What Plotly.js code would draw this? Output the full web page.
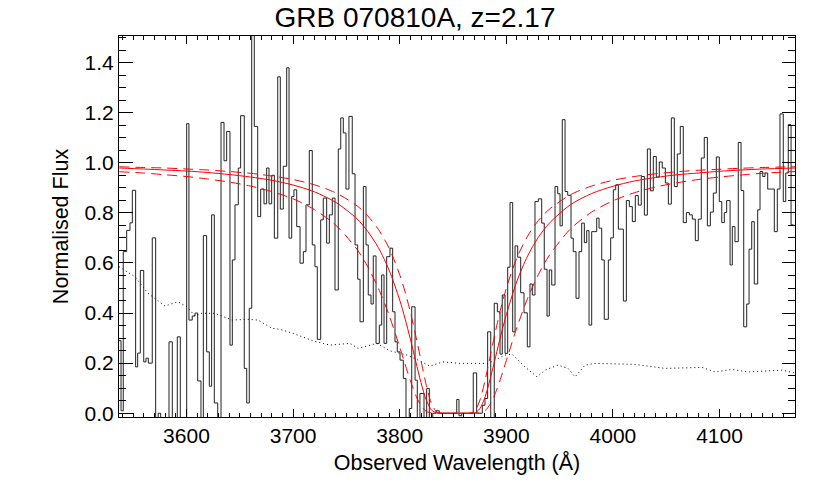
<!DOCTYPE html>
<html>
<head>
<meta charset="utf-8">
<script src="https://cdn.plot.ly/plotly-3.0.1.min.js"></script>
<style>html,body{margin:0;padding:0;background:#fff;}#chart{width:830px;height:493px;}</style>
</head>
<body>
<div id="chart"></div>
<script>
// Spectrum bin left edges (Angstrom); last entry is the right edge of the final bin
const waveEdges = [3536.7,3538.6,3540.7,3543.9,3547.0,3549.2,3552.3,3554.2,3556.7,3559.9,
3562.0,3564.2,3567.9,3571.1,3573.5,3575.8,3578.9,3581.4,3583.6,3586.7,
3589.2,3591.4,3594.2,3597.0,3600.2,3602.3,3605.4,3608.0,3610.5,3613.6,
3615.8,3618.9,3621.4,3623.6,3626.1,3629.3,3632.4,3635.2,3637.7,3640.8,
3643.0,3645.5,3648.6,3650.8,3654.2,3656.5,3658.9,3661.2,3663.6,3666.8,
3669.6,3672.7,3675.2,3677.4,3679.9,3682.4,3685.6,3688.0,3690.8,3694.0,
3696.2,3698.7,3700.8,3703.4,3706.5,3709.6,3712.1,3715.2,3718.0,3720.5,
3722.7,3725.9,3728.3,3731.5,3734.0,3736.8,3739.3,3742.4,3744.7,3747.1,
3749.6,3752.4,3755.5,3758.1,3760.6,3762.8,3765.9,3768.4,3770.5,3773.1,
3775.2,3777.8,3780.9,3783.1,3785.3,3787.8,3790.9,3793.4,3795.6,3797.7,
3800.3,3803.4,3805.9,3809.0,3811.3,3814.4,3816.5,3819.0,3822.8,3825.3,
3827.8,3831.0,3834.1,3837.1,3840.3,3842.5,3845.3,3848.1,3850.9,3853.5,
3855.6,3858.2,3861.3,3864.4,3866.9,3869.0,3872.2,3874.7,3877.5,3880.0,
3882.5,3885.4,3888.7,3891.6,3894.1,3896.2,3898.8,3901.3,3903.5,3906.0,
3908.2,3910.7,3913.5,3916.6,3919.7,3922.2,3924.4,3926.9,3930.0,3933.2,
3935.6,3938.2,3940.3,3942.6,3945.7,3948.2,3950.4,3952.5,3955.1,3957.6,
3960.7,3962.8,3965.4,3968.2,3970.7,3973.2,3975.4,3977.6,3980.1,3982.3,
3984.8,3987.0,3989.5,3991.9,3995.7,3997.9,4000.4,4002.6,4005.1,4009.8,
4012.6,4015.4,4018.2,4021.0,4023.8,4026.6,4029.5,4032.3,4035.1,4037.9,
4040.7,4043.5,4046.3,4049.2,4052.0,4054.8,4057.6,4060.4,4063.2,4066.0,
4068.9,4071.7,4074.5,4077.3,4080.1,4082.9,4085.7,4088.6,4091.4,4094.2,
4097.0,4099.8,4102.1,4104.5,4106.7,4109.9,4112.0,4114.5,4117.6,4120.2,
4122.7,4125.5,4127.7,4130.2,4132.6,4135.8,4138.0,4140.5,4142.7,4145.2,
4148.3,4151.4,4154.2,4156.7,4159.8,4162.1,4164.5,4167.1,4169.2,4170.8];

// Normalised flux per bin
const flux = [0.29,0.01,0.645,0.73,0.76,0.89,0.185,0.24,0.57,0.205,
0.22,0.20,0.70,-0.05,0.0,-0.1,-0.15,-0.1,0.285,-0.1,
-0.1,0.305,-0.1,-0.1,1.156,0.372,0.388,0.40,0.129,-0.05,
0.709,0.245,0.108,0.792,0.041,-0.05,1.161,1.008,1.125,0.272,
0.612,0.832,0.979,1.188,0.179,0.041,0.419,1.6,1.145,0.785,
0.895,0.836,0.979,0.836,0.95,0.699,1.343,0.815,0.986,1.379,
0.699,0.865,0.892,0.745,0.599,0.645,0.832,1.049,0.672,0.585,
0.295,0.772,0.859,0.679,0.792,0.859,0.492,1.055,1.179,1.119,
0.895,1.185,0.956,0.672,0.535,0.365,0.905,0.672,0.472,0.436,
0.628,0.279,0.352,0.552,0.279,0.625,0.659,0.405,0.285,0.245,
0.212,0.139,-0.03,0.019,0.425,0.132,-0.03,0.079,-0.03,0.099,
-0.03,0.0,0.01,0.0,0.0,0.0,0.0,0.0,0.0,0.055,
-0.01,0.0,0.0,0.0,0.0,0.161,0.0,0.0,0.032,0.059,
0.325,-0.05,0.439,0.405,0.236,0.472,0.239,0.583,0.841,0.325,
0.668,0.623,0.481,0.401,0.265,0.516,0.472,0.845,0.856,0.759,
0.575,0.388,0.572,0.512,0.905,0.876,0.748,1.172,0.885,0.87,
0.699,0.645,0.459,0.645,0.759,0.681,0.729,0.352,0.725,0.725,
0.779,0.739,0.612,0.375,0.612,0.70,0.892,0.912,0.735,0.448,
0.849,0.825,0.765,0.869,0.831,0.945,0.791,1.055,0.888,1.025,
0.943,1.003,0.979,0.919,0.835,1.179,0.905,1.035,1.145,0.761,
0.801,0.792,0.775,0.689,0.775,1.019,1.101,0.748,0.803,0.879,
1.023,0.845,0.761,0.801,0.849,0.592,0.745,0.685,1.081,0.889,
0.345,0.436,0.655,0.765,0.516,0.812,0.965,0.945,0.959,0.895,
0.895,0.725,0.895,1.195,0.845,0.959,1.152,0.752,0.75];

// Error spectrum (dotted)
const errWave = [3536.7,3551.7,3563.9,3579.8,3592.0,3600.5,3608.0,3614.5,3626.7,3642.7,
3657.7,3667.1,3680.2,3687.7,3699.9,3718.7,3734.6,3753.4,3760.9,3778.7,
3790.9,3806.9,3819.0,3828.4,3840.6,3856.5,3882.8,3898.8,3905.3,3917.5,
3928.8,3936.3,3948.5,3957.9,3964.5,3973.8,3983.2,4020.7,4048.9,4083.6,
4095.8,4111.7,4126.7,4158.6,4170.8];
const errFlux = [0.585,0.545,0.479,0.428,0.445,0.425,0.388,0.399,0.399,0.372,
0.375,0.372,0.339,0.335,0.319,0.289,0.272,0.279,0.259,0.279,
0.249,0.232,0.209,0.188,0.205,0.199,0.199,0.232,0.236,0.185,
0.145,0.172,0.192,0.179,0.145,0.192,0.199,0.195,0.179,0.183,
0.165,0.175,0.165,0.172,0.161];

// DLA model profile (solid) and its bounds (dashed)
const modelWave = [3537,3560,3580,3600,3620,3640,3660,3680,3700,3720,3740,3760,3770,3780,3790,3800,3805,3810,3815,3820,3825,3830,3835,3840,3845,3850,3855,3860,3865,3870,3875,3880,3885,3890,3895,3900,3910,3920,3930,3940,3960,3980,4000,4020,4040,4060,4080,4100,4120,4140,4171];
const modelFlux = [0.979,0.975,0.971,0.967,0.961,0.953,0.943,0.930,0.911,0.884,0.842,0.776,0.726,0.661,0.572,0.452,0.378,0.296,0.208,0.122,0.052,0.012,0.001,0,0,0,0,0,0,0.001,0.017,0.064,0.139,0.226,0.313,0.393,0.528,0.628,0.702,0.757,0.832,0.877,0.906,0.927,0.941,0.952,0.959,0.966,0.971,0.975,0.979];
const modelLow = [0.964,0.959,0.952,0.945,0.935,0.923,0.907,0.885,0.856,0.813,0.751,0.654,0.585,0.499,0.392,0.264,0.196,0.130,0.072,0.030,0.007,0.001,0,0,0,0,0,0,0,0,0.001,0.010,0.037,0.083,0.143,0.210,0.343,0.459,0.553,0.628,0.735,0.803,0.848,0.880,0.903,0.920,0.933,0.943,0.951,0.958,0.965];
const modelHigh = [0.984,0.981,0.979,0.975,0.971,0.965,0.958,0.947,0.933,0.912,0.880,0.828,0.788,0.734,0.660,0.553,0.485,0.404,0.311,0.210,0.111,0.037,0.004,0,0,0,0,0,0,0.007,0.049,0.130,0.230,0.330,0.421,0.499,0.621,0.707,0.769,0.813,0.872,0.907,0.930,0.945,0.956,0.964,0.970,0.974,0.978,0.981,0.984];

const xTickVals = [3600,3700,3800,3900,4000,4100];
const yTickVals = [0.0,0.2,0.4,0.6,0.8,1.0,1.2,1.4];

const FONT = 'Liberation Sans, Arial, Helvetica, sans-serif';

const stepY = flux.concat([flux[flux.length-1]]);

const traces = [
  {x: errWave, y: errFlux, mode:'lines', line:{color:'#000', width:1, dash:'1px,3px'}, hoverinfo:'skip'},
  {x: waveEdges, y: stepY, mode:'lines', line:{color:'#222', width:1, shape:'hv'}, hoverinfo:'skip'},
  {x: modelWave, y: modelLow, mode:'lines', line:{color:'#ff0000', width:1, dash:'10px,6px', shape:'spline', smoothing:0.8}},
  {x: modelWave, y: modelHigh, mode:'lines', line:{color:'#ff0000', width:1, dash:'10px,6px', shape:'spline', smoothing:0.8}},
  {x: modelWave, y: modelFlux, mode:'lines', line:{color:'#ff0000', width:1, shape:'spline', smoothing:0.8}}
];

const layout = {
  width: 830, height: 493,
  margin: {l:119, r:35, t:36, b:76, pad:0},
  paper_bgcolor:'#fff', plot_bgcolor:'#fff',
  showlegend:false,
  font:{family:FONT, color:'#000', size:21},
  title:{text:'GRB 070810A, z=2.17', font:{family:FONT, size:28, color:'#000'}, x:0.5, xanchor:'center', y:0.985, yanchor:'top'},
  xaxis:{
    range:[3536.7, 4170.8], tickvals:xTickVals, ticktext:xTickVals.map(String),
    ticks:'inside', ticklen:7.6, tickwidth:1, tickcolor:'#000',
    minor:{dtick:10, tick0:3600, ticks:'inside', ticklen:3.8, tickwidth:1, tickcolor:'#000'},
    showline:true, linecolor:'#000', linewidth:1, mirror:'ticks',
    showgrid:false, zeroline:false,
    tickfont:{family:FONT, size:21, color:'#000'},
    title:{text:'Observed Wavelength (Å)', font:{family:FONT, size:21.5, color:'#000'}, standoff:8}
  },
  yaxis:{
    range:[-0.015, 1.506], tickvals:yTickVals, ticktext:yTickVals.map(v=>v.toFixed(1)),
    ticks:'inside', ticklen:13.5, tickwidth:1, tickcolor:'#000',
    minor:{dtick:0.05, tick0:0, ticks:'inside', ticklen:6.75, tickwidth:1, tickcolor:'#000'},
    showline:true, linecolor:'#000', linewidth:1, mirror:'ticks',
    showgrid:false, zeroline:false,
    tickfont:{family:FONT, size:21, color:'#000'},
    title:{text:'Normalised Flux', font:{family:FONT, size:21.5, color:'#000'}, standoff:10}
  }
};

Plotly.newPlot('chart', traces, layout, {displayModeBar:false, staticPlot:true});
</script>
</body>
</html>
